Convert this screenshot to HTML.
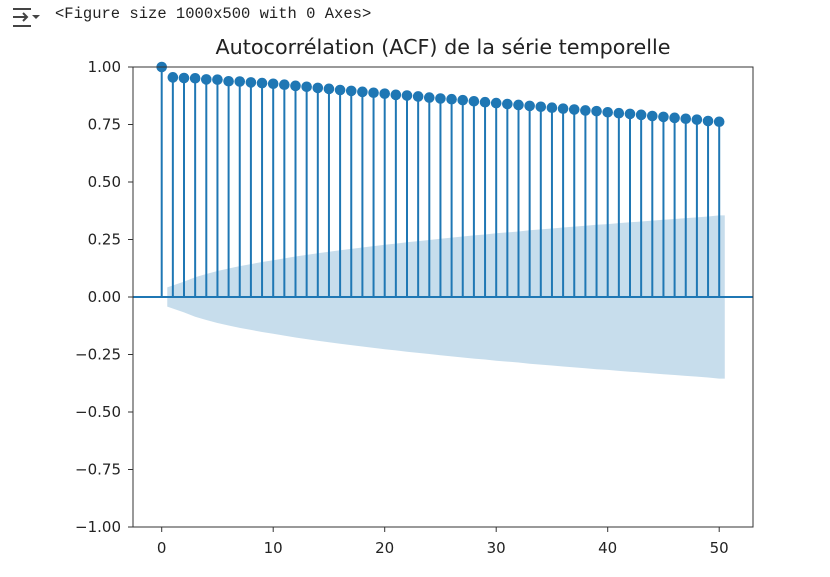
<!DOCTYPE html>
<html><head><meta charset="utf-8"><style>
body{margin:0;background:#fff;width:830px;height:577px;overflow:hidden;font-family:"DejaVu Sans","Liberation Sans",sans-serif}
#hdr{position:absolute;left:55px;top:5px;font:15.5px "Liberation Mono","DejaVu Sans Mono",monospace;color:#222}
</style></head><body>
<svg width="30" height="26" style="position:absolute;left:10px;top:4px">
<line x1="3" y1="5" x2="21" y2="5" stroke="#444" stroke-width="2"/>
<line x1="3" y1="22" x2="21" y2="22" stroke="#444" stroke-width="2"/>
<line x1="3" y1="13" x2="17" y2="13" stroke="#444" stroke-width="2"/>
<polyline points="13,9 17,13 13,17" fill="none" stroke="#444" stroke-width="2"/>
<polygon points="22,11 30,11 26,15" fill="#444"/>
</svg>
<div id="hdr">&lt;Figure size 1000x500 with 0 Axes&gt;</div>
<svg id="chart" width="830" height="577" style="position:absolute;left:0;top:0"></svg>
<script>
const lags=[0,1,2,3,4,5,6,7,8,9,10,11,12,13,14,15,16,17,18,19,20,21,22,23,24,25,26,27,28,29,30,31,32,33,34,35,36,37,38,39,40,41,42,43,44,45,46,47,48,49,50];
const acfValues=[1.0,0.955,0.952,0.951,0.946,0.945,0.938,0.937,0.933,0.930,0.927,0.923,0.918,0.914,0.909,0.905,0.900,0.896,0.892,0.888,0.884,0.879,0.876,0.872,0.867,0.863,0.860,0.856,0.851,0.847,0.843,0.839,0.835,0.831,0.827,0.823,0.819,0.815,0.811,0.808,0.803,0.799,0.796,0.792,0.787,0.783,0.779,0.775,0.771,0.765,0.762];
const bandValues=[0.042,0.067,0.086,0.100,0.113,0.124,0.134,0.143,0.152,0.160,0.168,0.176,0.183,0.190,0.197,0.203,0.209,0.215,0.221,0.227,0.232,0.238,0.243,0.248,0.253,0.258,0.263,0.268,0.272,0.277,0.281,0.285,0.290,0.294,0.298,0.302,0.306,0.310,0.314,0.317,0.321,0.325,0.328,0.332,0.336,0.339,0.343,0.346,0.350,0.355];
const yTicks=[1.00,0.75,0.50,0.25,0.00,-0.25,-0.50,-0.75,-1.00];
const xTicks=[0,10,20,30,40,50];
const L=133,R=753,T=67,B=527;
const x=v=>161.7+v*11.15;
const y=v=>T+(1-v)/2*(B-T);
const svg=document.getElementById('chart');
const NS='http://www.w3.org/2000/svg';
function mk(tag,attrs){const e=document.createElementNS(NS,tag);for(const k in attrs)e.setAttribute(k,attrs[k]);svg.appendChild(e);return e;}
let up=[],lo=[];
bandValues.forEach((b,i)=>{const lx=i===0?x(0.5):x(i+1);up.push(lx+','+y(b));lo.unshift(lx+','+y(-b));});
up.push(x(50.5)+','+y(bandValues[bandValues.length-1]));
lo.unshift(x(50.5)+','+y(-bandValues[bandValues.length-1]));
const band=mk('polygon',{points:up.concat(lo).join(' '),fill:'#1f77b4','fill-opacity':'0.25'});


const z=mk('line',{x1:L,x2:R,y1:y(0),y2:y(0),stroke:'#1f77b4','stroke-width':2});


lags.forEach((l,i)=>{
 const s=mk('line',{x1:x(l),x2:x(l),y1:y(0),y2:y(acfValues[i]),stroke:'#1f77b4','stroke-width':2});
 
 
 const c=mk('circle',{cx:x(l),cy:y(acfValues[i]),r:5.3,fill:'#1f77b4'});
 
 
});
const fr=mk('rect',{x:L,y:T,width:R-L,height:B-T,fill:'none',stroke:'#333','stroke-width':1});


yTicks.forEach(v=>{
 const tk=mk('line',{x1:L-5,x2:L,y1:y(v),y2:y(v),stroke:'#333'});
 
 
 const t=mk('text',{x:L-12,y:y(v)+5,'text-anchor':'end','font-size':15,fill:'#222'});
 t.textContent=(v<0?'\u2212'+(-v).toFixed(2):v.toFixed(2));
 
 
});
xTicks.forEach(v=>{
 const tk=mk('line',{x1:x(v),x2:x(v),y1:B,y2:B+5,stroke:'#333'});
 
 
 const t=mk('text',{x:x(v),y:B+26,'text-anchor':'middle','font-size':15,fill:'#222'});
 t.textContent=v;
 
 
});
const ti=mk('text',{x:443,y:54,'text-anchor':'middle','font-size':20,fill:'#222',textLength:455,lengthAdjust:'spacingAndGlyphs'});
ti.textContent='Autocorrélation (ACF) de la série temporelle';


</script>
</body></html>
